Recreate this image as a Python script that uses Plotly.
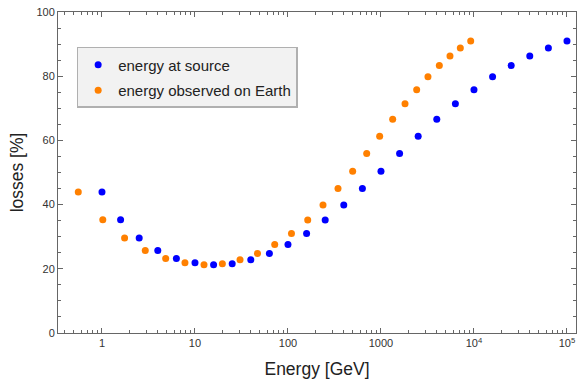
import plotly.graph_objects as go

# energy at source [GeV]
src_energy = [1, 1.585, 2.512, 3.981, 6.310, 10, 15.85, 25.12, 39.81, 63.10, 100,
              158.5, 251.2, 398.1, 631.0, 1000, 1585, 2512, 3981, 6310, 10000,
              15850, 25120, 39810, 63100, 100000]
# energy observed on Earth [GeV]
earth_energy = [0.556, 1.02, 1.75, 2.92, 4.84, 7.8, 12.5, 19.7, 30.5, 47, 72,
                109, 163, 238, 345, 496, 702, 968, 1336, 1813, 2420, 3200,
                4240, 5520, 7130, 9220]
# losses [%]
losses = [43.9, 35.3, 29.6, 25.7, 23.2, 21.9, 21.3, 21.6, 22.8, 24.8, 27.6,
          31.0, 35.2, 39.9, 45.0, 50.4, 55.9, 61.3, 66.6, 71.4, 75.8, 79.8,
          83.3, 86.3, 88.8, 91.0]

x_tickvals = [1, 10, 100, 1000, 10000, 100000]
x_ticktext = ["1", "10", "100", "1000", "10<sup>4</sup>", "10<sup>5</sup>"]

fig = go.Figure()
fig.add_trace(go.Scatter(x=src_energy, y=losses, mode="markers",
                         name="energy at source", legendgroup="a",
                         marker=dict(color="#0000ff", size=7)))
fig.add_trace(go.Scatter(x=earth_energy, y=losses, mode="markers",
                         name="energy observed on Earth", legendgroup="b",
                         marker=dict(color="#ff8000", size=7)))

axis_color = "#666666"
fig.update_layout(
    width=577, height=381,
    margin=dict(l=58, r=1, t=12, b=48),
    paper_bgcolor="white", plot_bgcolor="white",
    font=dict(family="Liberation Sans, Arial, sans-serif", color="#333333"),
    showlegend=True,
    legend=dict(x=0.036, y=0.891, xanchor="left", yanchor="top",
                bgcolor="#f2f2f2", bordercolor="#b0b0b0", borderwidth=1.5,
                font=dict(size=15, color="#222222"),
                itemsizing="trace", traceorder="grouped", tracegroupgap=3,
                itemwidth=30),
    xaxis=dict(type="log", range=[-0.473, 5.097],
               tickvals=x_tickvals, ticktext=x_ticktext,
               ticks="inside", ticklen=5, tickcolor=axis_color,
               showline=True, linecolor=axis_color, linewidth=1,
               mirror="allticks", showgrid=False, zeroline=False,
               tickfont=dict(size=11, color="#333333"),
               minor=dict(ticks="inside", ticklen=3, tickcolor=axis_color,
                          dtick="D1", showgrid=False),
               title=dict(text="Energy [GeV]", font=dict(size=17.5, color="#222222"),
                          standoff=14)),
    yaxis=dict(range=[0, 100], tickvals=[0, 20, 40, 60, 80, 100],
               ticks="inside", ticklen=5, tickcolor=axis_color,
               showline=True, linecolor=axis_color, linewidth=1,
               mirror="allticks", showgrid=False, zeroline=False,
               tickfont=dict(size=11, color="#333333"),
               minor=dict(ticks="inside", ticklen=3, tickcolor=axis_color,
                          dtick=5, showgrid=False),
               title=dict(text="losses [%]", font=dict(size=17.5, color="#222222"),
                          standoff=8)),
)

fig.write_html("out.html")
